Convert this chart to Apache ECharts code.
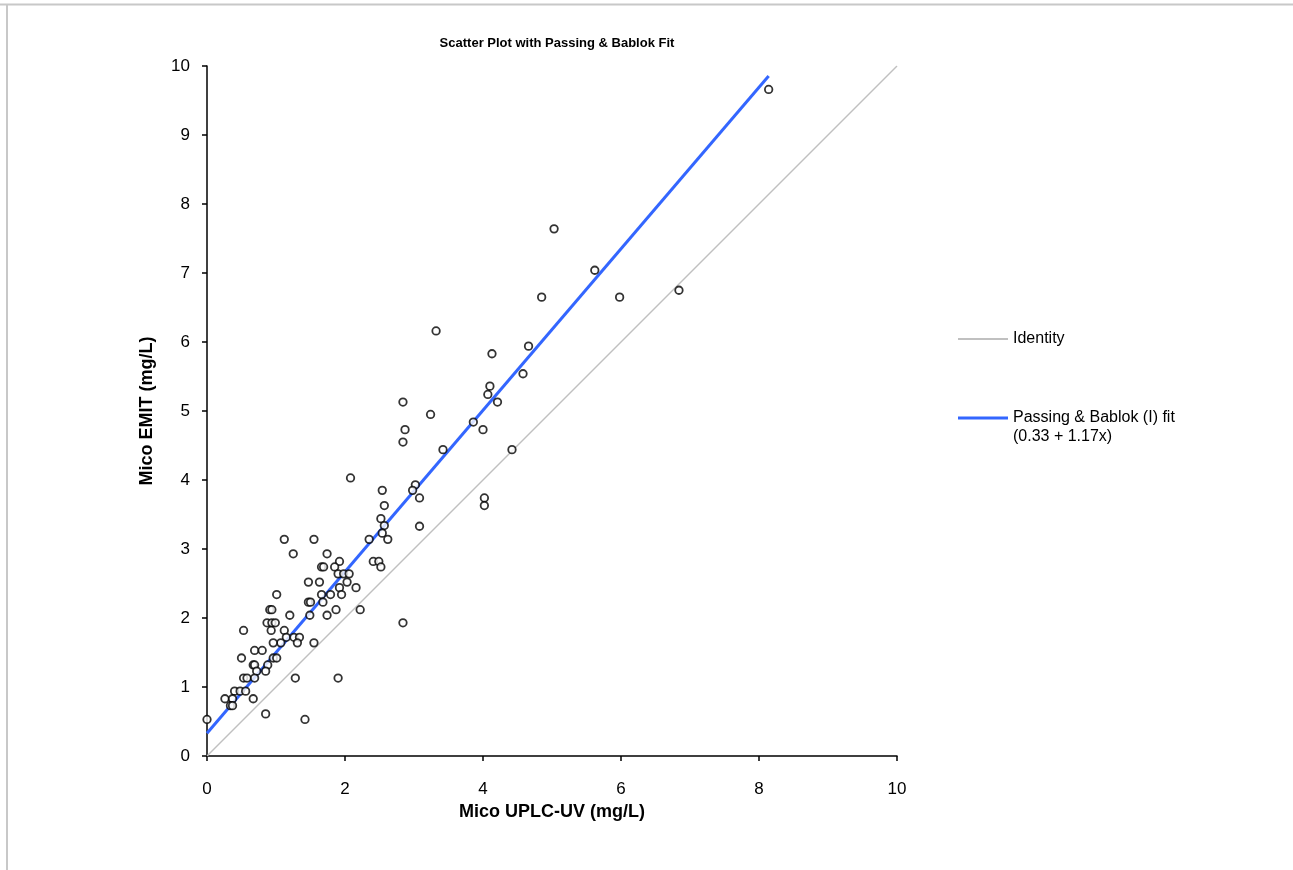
<!DOCTYPE html>
<html>
<head>
<meta charset="utf-8">
<script src="https://cdn.jsdelivr.net/npm/echarts@6/dist/echarts.min.js"></script>
<style>
    html, body { margin: 0; padding: 0; background: #fff; }
    #chart { width: 1293px; height: 870px; }
</style>
</head>
<body>
<div id="chart"></div>
<script>
    // Mico UPLC-UV (x) vs Mico EMIT (y), mg/L
    const micoUplc = [
        8.14, 5.03, 5.62, 4.85, 5.98, 6.84, 3.32, 4.13, 4.66, 4.58,
        4.10, 4.07, 4.21, 2.84, 3.24, 3.86, 4.00, 2.87, 2.84, 3.42,
        4.42, 3.02, 2.98, 3.08, 4.02, 4.02, 3.08, 2.84, 2.08, 2.54,
        2.57, 2.52, 2.57, 2.54, 2.35, 2.62, 1.12, 1.55, 1.25, 1.74,
        1.92, 1.66, 1.69, 1.85, 2.41, 2.49, 2.52, 1.90, 1.98, 2.06,
        1.47, 1.63, 2.03, 2.16, 1.92, 1.01, 1.66, 1.79, 1.95, 1.47,
        1.50, 1.68, 0.91, 0.94, 1.87, 2.22, 1.20, 1.49, 1.74, 0.87,
        0.94, 0.99, 0.53, 0.93, 1.12, 1.15, 1.26, 1.34, 1.07, 0.96,
        1.31, 1.55, 0.69, 0.80, 0.50, 0.96, 1.01, 0.67, 0.69, 0.88,
        0.85, 0.72, 0.53, 0.58, 0.69, 1.28, 1.90, 0.40, 0.48, 0.56,
        0.26, 0.37, 0.67, 0.34, 0.37, 0.85, 0.00, 1.42
    ];
    const micoEmit = [
        9.66, 7.64, 7.04, 6.65, 6.65, 6.75, 6.16, 5.83, 5.94, 5.54,
        5.36, 5.24, 5.13, 5.13, 4.95, 4.84, 4.73, 4.73, 4.55, 4.44,
        4.44, 3.93, 3.85, 3.74, 3.74, 3.63, 3.33, 1.93, 4.03, 3.85,
        3.63, 3.44, 3.34, 3.23, 3.14, 3.14, 3.14, 3.14, 2.93, 2.93,
        2.82, 2.74, 2.74, 2.74, 2.82, 2.82, 2.74, 2.64, 2.64, 2.64,
        2.52, 2.52, 2.52, 2.44, 2.44, 2.34, 2.34, 2.34, 2.34, 2.23,
        2.23, 2.23, 2.12, 2.12, 2.12, 2.12, 2.04, 2.04, 2.04, 1.93,
        1.93, 1.93, 1.82, 1.82, 1.82, 1.72, 1.72, 1.72, 1.64, 1.64,
        1.64, 1.64, 1.53, 1.53, 1.42, 1.42, 1.42, 1.32, 1.32, 1.32,
        1.23, 1.23, 1.13, 1.13, 1.13, 1.13, 1.13, 0.94, 0.94, 0.94,
        0.83, 0.83, 0.83, 0.73, 0.73, 0.61, 0.53, 0.53
    ];

    // identity line and Passing & Bablok fit (intercept + slope)
    const identityX = [0, 10];
    const fitIntercept = 0.33;
    const fitSlope = 1.17;
    const fitX = [0, 8.14];

    const FONT = "'Liberation Sans', Arial, sans-serif";

    let points = micoUplc.map(function (x, i) { return [x, micoEmit[i]]; });
    let identityLine = identityX.map(function (x) { return [x, x]; });
    let fitLine = fitX.map(function (x) { return [x, fitIntercept + fitSlope * x]; });

    let myChart = echarts.init(document.getElementById('chart'));

    let option = {
        backgroundColor: '#fff',
        animation: false,
        title: {
            text: 'Scatter Plot with Passing & Bablok Fit',
            left: 552,
            textAlign: 'center',
            top: 32,
            textStyle: {
                fontFamily: FONT,
                fontWeight: 'bold',
                fontSize: 13,
                color: '#000'
            }
        },
        legend: [
            {
                left: 958,
                top: 331,
                padding: 0,
                itemWidth: 50,
                itemHeight: 2,
                icon: 'rect',
                data: ['Identity'],
                textStyle: { fontFamily: FONT, fontSize: 16, color: '#000' }
            },
            {
                left: 958,
                top: 410,
                padding: 0,
                itemWidth: 50,
                itemHeight: 3,
                icon: 'rect',
                data: ['Passing & Bablok (I) fit'],
                textStyle: { fontFamily: FONT, fontSize: 16, color: '#000' }
            }
        ],
        graphic: [
            {
                type: 'text',
                left: 1013,
                top: 429,
                style: { text: '(0.33 + 1.17x)', fontFamily: FONT, fontSize: 16, fill: '#000' }
            },
            {
                type: 'line',
                shape: { x1: 0, y1: 4.5, x2: 1293, y2: 4.5 },
                style: { stroke: '#c8c8c8', lineWidth: 2 }
            },
            {
                type: 'line',
                shape: { x1: 7, y1: 4, x2: 7, y2: 870 },
                style: { stroke: '#c8c8c8', lineWidth: 2 }
            }
        ],
        grid: {
            left: 207,
            top: 66,
            right: 396,
            bottom: 114,
            outerBoundsMode: 'none'
        },
        xAxis: {
            type: 'value',
            min: 0,
            max: 10,
            interval: 2,
            name: 'Mico UPLC-UV (mg/L)',
            nameLocation: 'middle',
            nameGap: 40,
            nameTextStyle: { fontFamily: FONT, fontWeight: 'bold', fontSize: 18, color: '#000' },
            axisLine: { show: true, lineStyle: { color: '#000', width: 1.5 } },
            axisTick: { show: true, inside: false, length: 5, lineStyle: { color: '#000', width: 1.5 } },
            axisLabel: { margin: 25, fontFamily: FONT, fontSize: 17, color: '#000' },
            splitLine: { show: false }
        },
        yAxis: {
            type: 'value',
            min: 0,
            max: 10,
            interval: 1,
            name: 'Mico EMIT (mg/L)',
            nameLocation: 'middle',
            nameGap: 51,
            nameTextStyle: { fontFamily: FONT, fontWeight: 'bold', fontSize: 18, color: '#000' },
            axisLine: { show: true, lineStyle: { color: '#000', width: 1.5 } },
            axisTick: { show: true, inside: false, length: 5, lineStyle: { color: '#000', width: 1.5 } },
            axisLabel: { margin: 17, fontFamily: FONT, fontSize: 17, color: '#000' },
            splitLine: { show: false }
        },
        series: [
            {
                name: 'Identity',
                type: 'line',
                data: identityLine,
                symbol: 'none',
                color: '#c0c0c0',
                lineStyle: { color: '#c0c0c0', width: 1.5 },
                z: 1
            },
            {
                name: 'Passing & Bablok (I) fit',
                type: 'line',
                data: fitLine,
                symbol: 'none',
                color: '#3366ff',
                lineStyle: { color: '#3366ff', width: 3 },
                z: 2
            },
            {
                name: 'Data',
                type: 'scatter',
                data: points,
                symbol: 'circle',
                symbolSize: 7.5,
                itemStyle: { color: '#fff', borderColor: '#000', borderWidth: 1.8 },
                z: 3
            }
        ]
    };

    myChart.setOption(option);
</script>
</body>
</html>
